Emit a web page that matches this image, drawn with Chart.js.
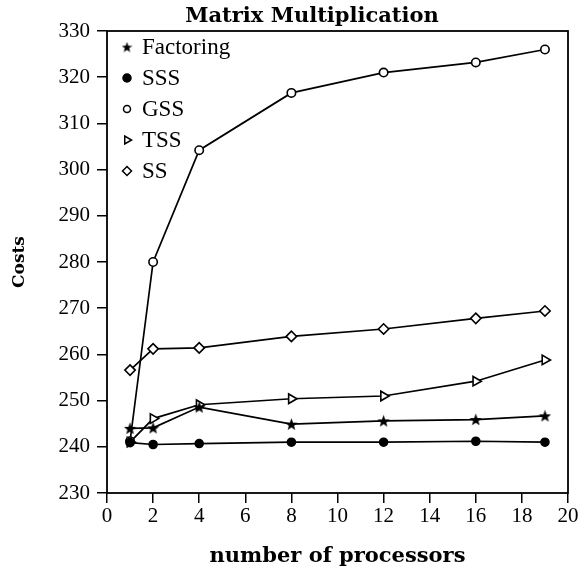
<!DOCTYPE html>
<html>
<head>
<meta charset="utf-8">
<script src="https://cdn.jsdelivr.net/npm/chart.js@4"></script>
<style>
  html, body { margin: 0; padding: 0; background: #fff; }
</style>
</head>
<body>
<canvas id="grafico" width="580" height="574"></canvas>
<script>
  const processadores = [1, 2, 4, 8, 12, 16, 19];
  const factoring = [244.0, 244.1, 248.6, 244.9, 245.6, 245.9, 246.7];
  const sss = [240.9, 240.5, 240.7, 241.0, 241.0, 241.2, 241.0];
  const gss = [241.2, 280.0, 304.2, 316.6, 321.0, 323.2, 326.0];
  const tss = [241.0, 246.1, 249.1, 250.4, 251.0, 254.2, 258.8];
  const ss = [256.6, 261.2, 261.4, 263.9, 265.5, 267.8, 269.4];
  const nomes = ["Factoring", "SSS", "GSS", "TSS", "SS"];
  const xTicks = [0, 2, 4, 6, 8, 10, 12, 14, 16, 18, 20];
  const yTicks = [230, 240, 250, 260, 270, 280, 290, 300, 310, 320, 330];

  const serifa = "'Liberation Serif', 'Times New Roman', serif";
  const negrito = "'DejaVu Serif', serif";

  // 5-point star for the Factoring marker
  function estrela(size) {
    const c = document.createElement("canvas");
    c.width = size;
    c.height = size;
    const g = c.getContext("2d");
    const cx = size / 2, cy = size / 2 + 0.6, R = size / 2, r = R * 0.42;
    g.beginPath();
    for (let i = 0; i < 10; i++) {
      const rad = i % 2 === 0 ? R : r;
      const a = -Math.PI / 2 + (i * Math.PI) / 5;
      const px = cx + rad * Math.cos(a);
      const py = cy + rad * Math.sin(a);
      if (i === 0) g.moveTo(px, py);
      else g.lineTo(px, py);
    }
    g.closePath();
    g.fillStyle = "#000";
    g.fill();
    return c;
  }

  function pontos(vals) {
    return processadores.map((x, i) => ({ x: x, y: vals[i] }));
  }

  // legend markers (a bit smaller than in the plot)
  const marcadores = [
    { pointStyle: estrela(11), radius: 5, rotation: 0, fill: "#000" },
    { pointStyle: "circle", radius: 4, rotation: 0, fill: "#000" },
    { pointStyle: "circle", radius: 3.5, rotation: 0, fill: "#fff" },
    { pointStyle: "triangle", radius: 4.5, rotation: 90, fill: "#fff" },
    { pointStyle: "rectRot", radius: 4.5, rotation: 0, fill: "#fff" },
  ];

  const moldura = {
    id: "moldura",
    afterDatasetsDraw(chart) {
      const a = chart.chartArea;
      const c = chart.ctx;
      c.save();
      c.strokeStyle = "#000";
      c.lineWidth = 1.8;
      c.strokeRect(a.left, a.top, a.right - a.left, a.bottom - a.top);

      // title and axis titles
      c.fillStyle = "#000";
      c.textAlign = "center";
      c.textBaseline = "alphabetic";
      c.font = "bold 21px " + negrito;
      c.fillText("Matrix Multiplication", 312, 22);
      c.font = "bold 21px " + negrito;
      c.fillText("number of processors", (a.left + a.right) / 2, 562);
      c.save();
      c.translate(24, (a.top + a.bottom) / 2);
      c.rotate(-Math.PI / 2);
      c.font = "bold 17px " + negrito;
      c.fillText("Costs", 0, 0);
      c.restore();

      // legend
      c.textAlign = "left";
      c.font = "23px " + serifa;
      nomes.forEach((nome, i) => {
        const base = 54 + 31 * i;
        const m = marcadores[i];
        c.fillStyle = m.fill;
        c.strokeStyle = "#000";
        c.lineWidth = 1.5;
        Chart.helpers.drawPoint(c, {
          pointStyle: m.pointStyle,
          radius: m.radius,
          rotation: m.rotation,
          borderWidth: 1.5,
        }, 127, base - 7);
        c.fillStyle = "#000";
        c.fillText(nome, 142, base);
      });
      c.restore();
    },
  };

  const base = {
    borderColor: "#000",
    backgroundColor: "#000",
    borderWidth: 1.7,
    pointBorderColor: "#000",
    pointBorderWidth: 1.6,
    tension: 0,
  };

  const ctx = document.getElementById("grafico");

  var grafico = new Chart(ctx, {
    type: "line",
    data: {
      datasets: [
        Object.assign({}, base, {
          label: nomes[0],
          data: pontos(factoring),
          pointStyle: estrela(13),
          pointRadius: 6,
        }),
        Object.assign({}, base, {
          label: nomes[1],
          data: pontos(sss),
          pointStyle: "circle",
          pointBackgroundColor: "#000",
          pointRadius: 4,
        }),
        Object.assign({}, base, {
          label: nomes[2],
          data: pontos(gss),
          pointStyle: "circle",
          pointBackgroundColor: "#fff",
          pointRadius: 4.2,
        }),
        Object.assign({}, base, {
          label: nomes[3],
          data: pontos(tss),
          pointStyle: "triangle",
          rotation: 90,
          pointBackgroundColor: "#fff",
          pointRadius: 5.5,
        }),
        Object.assign({}, base, {
          label: nomes[4],
          data: pontos(ss),
          pointStyle: "rectRot",
          pointBackgroundColor: "#fff",
          pointRadius: 5.2,
        }),
      ],
    },
    options: {
      responsive: false,
      animation: false,
      layout: {
        padding: { left: 0, right: 12, top: 31, bottom: 0 },
      },
      plugins: {
        title: { display: false },
        legend: { display: false },
        tooltip: { enabled: false },
      },
      scales: {
        x: {
          type: "linear",
          min: 0,
          max: 20,
          afterBuildTicks: (s) => {
            s.ticks = xTicks.map((v) => ({ value: v }));
          },
          afterFit: (s) => {
            s.height = 81;
          },
          ticks: {
            color: "#000",
            font: { family: serifa, size: 21 },
            padding: 1,
            maxRotation: 0,
          },
          grid: {
            drawOnChartArea: false,
            drawTicks: true,
            tickLength: 10,
            color: "#000",
            lineWidth: 1.5,
          },
          border: { display: false },
        },
        y: {
          type: "linear",
          min: 230,
          max: 330,
          afterBuildTicks: (s) => {
            s.ticks = yTicks.map((v) => ({ value: v }));
          },
          afterFit: (s) => {
            s.width = 107;
          },
          ticks: {
            color: "#000",
            font: { family: serifa, size: 21 },
            padding: 7,
          },
          grid: {
            drawOnChartArea: false,
            drawTicks: true,
            tickLength: 10,
            color: "#000",
            lineWidth: 1.5,
          },
          border: { display: false },
        },
      },
    },
    plugins: [moldura],
  });
</script>
</body>
</html>
